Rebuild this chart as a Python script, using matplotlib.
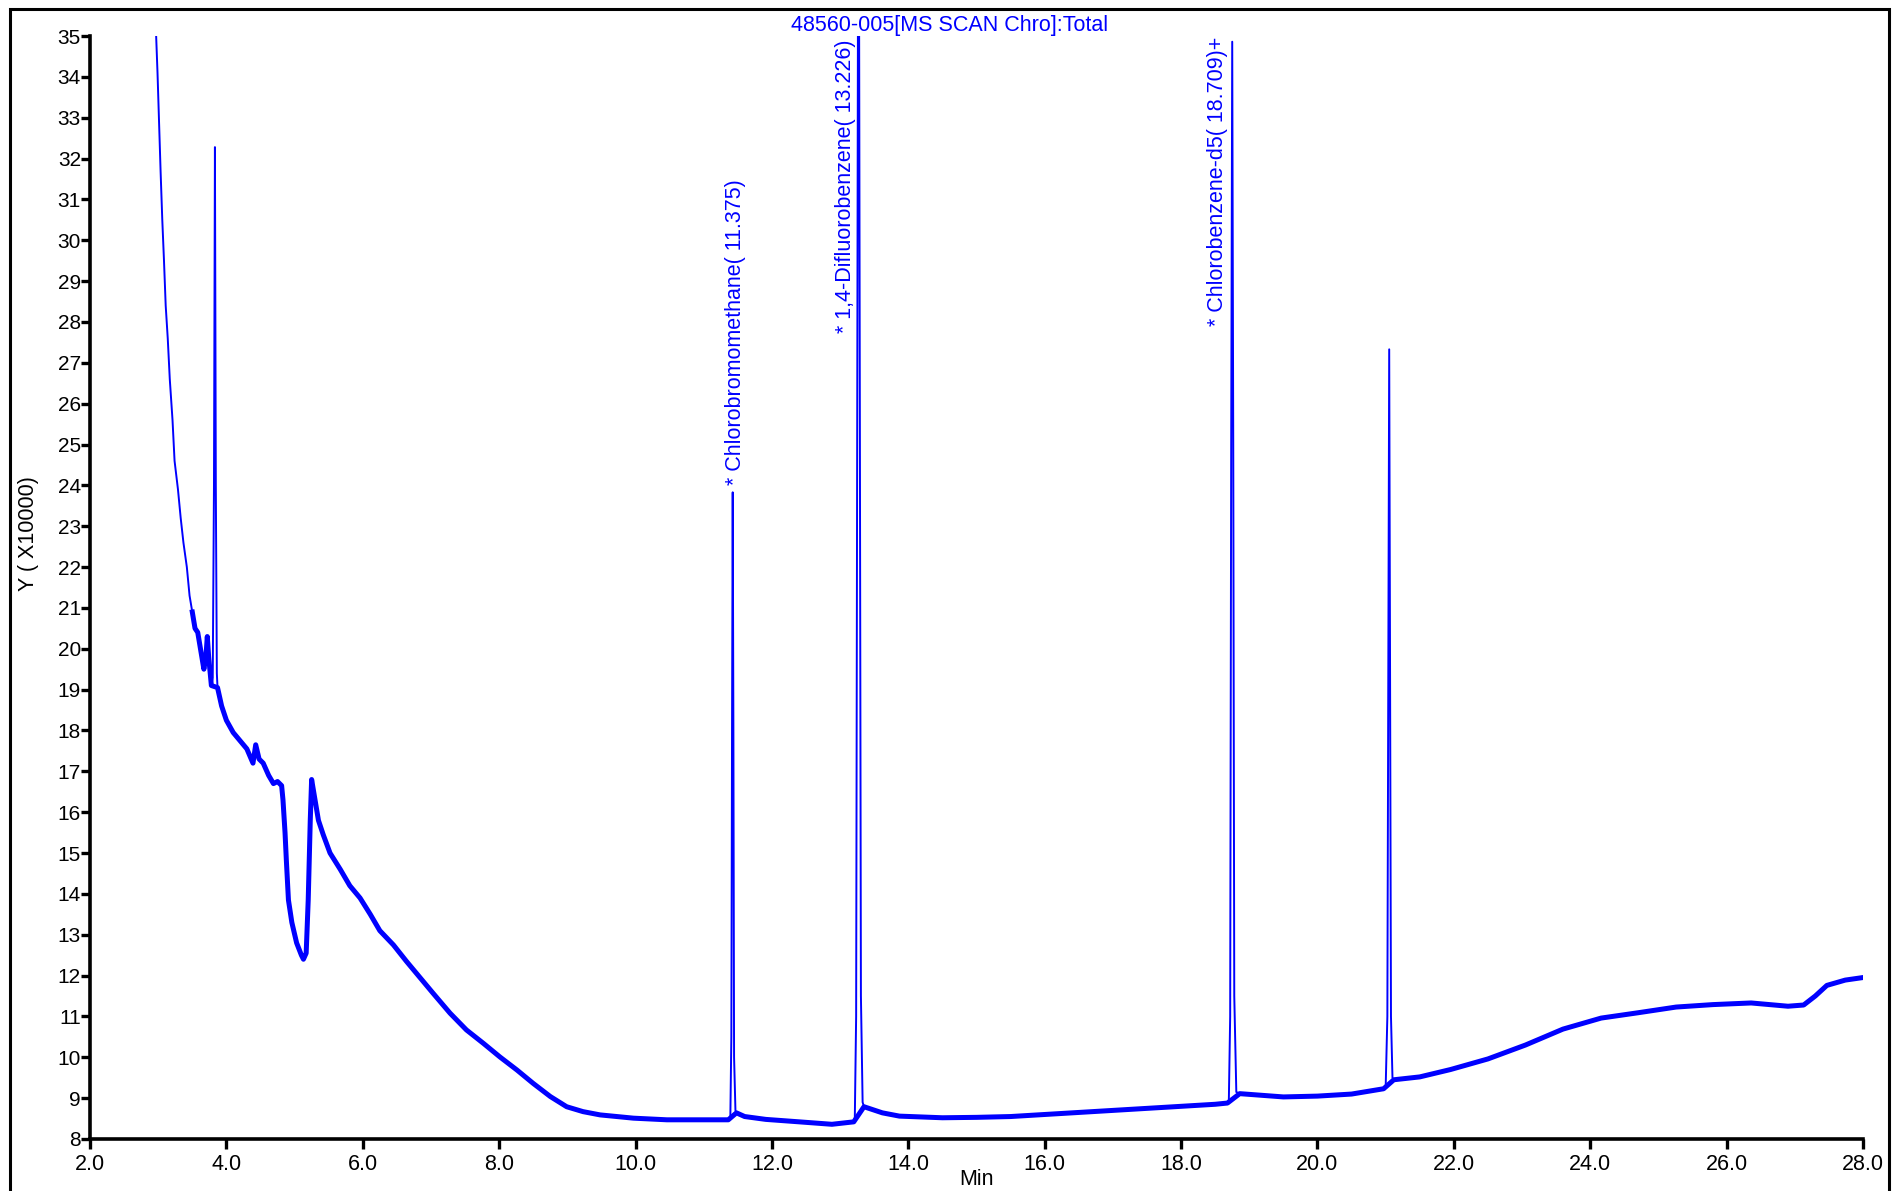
import matplotlib
matplotlib.use("Agg")
import matplotlib.pyplot as plt
from matplotlib.patches import Rectangle
import numpy as np

plt.rcParams['font.family'] = ['Liberation Sans', 'DejaVu Sans']

# total ion chromatogram (minutes, counts / 10000)
base_rt = [2.93, 2.97, 2.99, 3.01, 3.035, 3.06, 3.085, 3.11, 3.14, 3.17, 3.21, 3.24,
           3.29, 3.33, 3.37, 3.42, 3.46, 3.50, 3.54, 3.58, 3.61, 3.65, 3.67, 3.70,
           3.72, 3.74, 3.78, 3.87, 3.93, 4.00, 4.10, 4.20, 4.30, 4.39, 4.43, 4.48,
           4.54, 4.62, 4.69, 4.75, 4.81, 4.83, 4.86, 4.88, 4.91, 4.96, 5.03, 5.10,
           5.13, 5.17, 5.20, 5.23, 5.25, 5.30, 5.35, 5.42, 5.52, 5.67, 5.81, 5.96,
           6.11, 6.25, 6.45, 6.64, 6.79, 6.89, 7.03, 7.28, 7.52, 7.77, 8.01, 8.26,
           8.50, 8.75, 8.99, 9.23, 9.48, 9.97, 10.46, 10.95, 11.36, 11.48, 11.60,
           11.91, 12.40, 12.88, 13.20, 13.35, 13.62, 13.87, 14.5, 15.0, 15.5, 16.0,
           16.5, 17.0, 17.5, 18.0, 18.5, 18.68, 18.86, 19.5, 20.0, 20.5, 20.97,
           21.12, 21.5, 21.95, 22.5, 23.05, 23.6, 24.16, 24.7, 25.26, 25.8, 26.36,
           26.9, 27.13, 27.3, 27.47, 27.74, 27.99]
base_tic = [36.0, 35.0, 34.1, 33.0, 31.7, 30.5, 29.5, 28.4, 27.6, 26.6, 25.6, 24.6,
            23.9, 23.2, 22.6, 22.0, 21.3, 20.9, 20.5, 20.4, 20.1, 19.7, 19.5, 19.8,
            20.3, 19.8, 19.1, 19.05, 18.6, 18.25, 17.95, 17.75, 17.55, 17.2, 17.65, 17.3,
            17.2, 16.9, 16.7, 16.75, 16.65, 16.3, 15.5, 14.8, 13.85, 13.3, 12.8, 12.5,
            12.4, 12.55, 13.85, 15.8, 16.8, 16.3, 15.8, 15.45, 15.0, 14.6, 14.2, 13.9,
            13.5, 13.1, 12.75, 12.35, 12.05, 11.85, 11.57, 11.08, 10.67, 10.34, 10.01, 9.69,
            9.36, 9.04, 8.79, 8.67, 8.59, 8.51, 8.47, 8.47, 8.47, 8.64, 8.55,
            8.48, 8.42, 8.36, 8.42, 8.79, 8.64, 8.56, 8.52, 8.53, 8.55, 8.60,
            8.65, 8.70, 8.75, 8.80, 8.85, 8.88, 9.11, 9.03, 9.05, 9.10, 9.23,
            9.45, 9.52, 9.70, 9.96, 10.30, 10.69, 10.96, 11.09, 11.23, 11.29, 11.33,
            11.25, 11.28, 11.50, 11.76, 11.89, 11.95]

# the sharp peaks
peak_a_rt = [3.80, 3.818, 3.832, 3.845, 3.86]
peak_a_tic = [19.3, 24.0, 32.28, 24.0, 19.4]
peak_b_rt = [11.39, 11.405, 11.415, 11.425, 11.435, 11.445, 11.465]
peak_b_tic = [8.5, 10.5, 18.0, 23.83, 18.0, 10.0, 8.7]
peak_c_rt = [13.215, 13.235, 13.25, 13.262, 13.278, 13.29, 13.305, 13.33]
peak_c_tic = [8.45, 11.0, 25.0, 36.0, 36.0, 25.0, 11.5, 8.9]
peak_d_rt = [18.70, 18.72, 18.735, 18.75, 18.765, 18.78, 18.81]
peak_d_tic = [8.9, 11.0, 25.0, 34.86, 25.0, 11.5, 9.15]
peak_e_rt = [21.0, 21.025, 21.04, 21.052, 21.064, 21.078, 21.10]
peak_e_tic = [9.25, 11.0, 20.0, 27.33, 20.0, 11.0, 9.5]

peak_names = ['* Chlorobromomethane( 11.375)',
              '* 1,4-Difluorobenzene( 13.226)',
              '* Chlorobenzene-d5( 18.709)+']
label_rt = [11.466, 13.08, 18.54]
label_tic = [24.02, 27.73, 27.9]

x_ticks = [2.0, 4.0, 6.0, 8.0, 10.0, 12.0, 14.0, 16.0, 18.0, 20.0, 22.0, 24.0, 26.0, 28.0]
y_ticks = list(range(8, 36))

trace_color = '#0000ff'

rt = np.array(base_rt + peak_a_rt + peak_b_rt + peak_c_rt + peak_d_rt + peak_e_rt)
tic = np.array(base_tic + peak_a_tic + peak_b_tic + peak_c_tic + peak_d_tic + peak_e_tic)
order = np.argsort(rt, kind='stable')
rt, tic = rt[order], tic[order]

fig = plt.figure(figsize=(18.95, 11.91), dpi=100)
ax = fig.add_axes([90 / 1895, 1 - 1139 / 1191, 1773 / 1895, 1103 / 1191])

# noisy baseline band, then the trace itself
b_rt = np.array(base_rt)
b_tic = np.array(base_tic)
noisy = b_rt >= 3.5
ax.plot(b_rt[noisy], b_tic[noisy], color=trace_color, lw=3.6, solid_joinstyle='round')
ax.plot(rt, tic, color=trace_color, lw=1.4)

for name, x, y in zip(peak_names, label_rt, label_tic):
    ax.text(x, y, name, rotation=90, ha='center', va='bottom', color=trace_color,
            fontsize=15.5)

ax.set_xlim(2.0, 28.0)
ax.set_ylim(8, 35)
ax.set_xticks(x_ticks)
ax.set_xticklabels([f'{v:.1f}' for v in x_ticks])
ax.set_yticks(y_ticks)
ax.set_yticklabels([str(v) for v in y_ticks])

for side in ['top', 'right']:
    ax.spines[side].set_visible(False)
for side in ['left', 'bottom']:
    ax.spines[side].set_linewidth(2.6)
ax.tick_params(axis='y', length=6.5, width=2.4, pad=0, labelsize=15)
ax.tick_params(axis='x', length=7.5, width=2.4, pad=3, labelsize=15.5)

ax.set_xlabel('Min', fontsize=15.5, labelpad=-4)
ax.set_ylabel('Y ( X10000)', fontsize=15.5)
ax.yaxis.set_label_coords(-0.0288, 0.549)

fig.text(950 / 1895, 1 - 31 / 1191, '48560-005[MS SCAN Chro]:Total', color=trace_color,
         fontsize=15.5, ha='center', va='baseline')

# page frame around the plot
fig.add_artist(Rectangle((10 / 1895, -0.05), 1879 / 1895, 1.05 - 9 / 1191,
                         transform=fig.transFigure, fill=False, lw=2.2, color='black'))

fig.savefig('out.png', dpi=100)
